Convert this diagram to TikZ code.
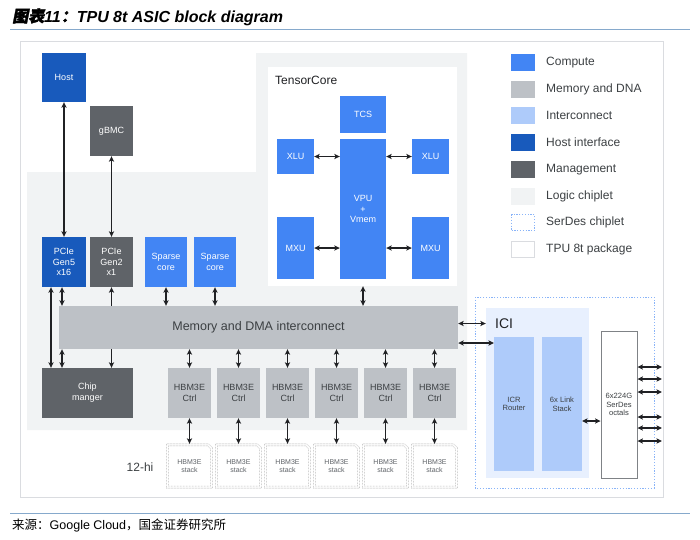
\documentclass[tikz,border=0pt]{standalone}
\usepackage{fontspec}
\setmainfont{Liberation Sans}
\newfontfamily\cjk{Noto Sans CJK SC}
\newfontfamily\cjkit[FakeSlant=0.2,FakeBold=2]{Noto Sans CJK SC}
\usetikzlibrary{arrows.meta}
\definecolor{cmp}{HTML}{4285F4}
\definecolor{mem}{HTML}{BDC1C6}
\definecolor{icn}{HTML}{AECBFA}
\definecolor{hst}{HTML}{185ABC}
\definecolor{mgt}{HTML}{5F6368}
\definecolor{logic}{HTML}{F1F3F4}
\definecolor{serd}{HTML}{8AB4F8}
\definecolor{pkg}{HTML}{DADCE0}
\definecolor{icibg}{HTML}{E8F0FE}
\definecolor{txtd}{HTML}{3C4043}
\definecolor{rule}{HTML}{86A9CC}
\definecolor{arrc}{HTML}{202124}
\newcommand\szbox{\fontsize{9}{10.8}\selectfont}
\newcommand\szsmall{\fontsize{7.6}{8.6}\selectfont}
\newcommand\szstk{\fontsize{7}{8.3}\selectfont}
\newcommand\szleg{\fontsize{12}{14}\selectfont}
\tikzset{
  blk/.style={rectangle, inner sep=0pt, align=center, text=white, font=\szbox},
  compute/.style={blk, fill=cmp},
  hostif/.style={blk, fill=hst},
  mgmt/.style={blk, fill=mgt},
  memb/.style={blk, fill=mem, text=txtd},
  icb/.style={blk, fill=icn, text=txtd, font=\szsmall},
  stackb/.style={rectangle, inner sep=0pt, align=center, text=mgt, font=\szstk, minimum width=46pt, minimum height=44pt},
  dots/.style={draw=black!40, line width=0.5pt, dash pattern=on 0.6pt off 0.9pt},
  arr/.style={<->, >={Stealth[length=5.5pt,width=5.2pt,inset=1.2pt]}, line width=1.1pt, draw=arrc},
  legsw/.style={rectangle, inner sep=0pt, minimum width=24pt, minimum height=17pt},
  legtx/.style={anchor=west, inner sep=0pt, text=txtd, font=\szleg},
}
\begin{document}
\begin{tikzpicture}[x=1pt,y=-1pt]
\useasboundingbox (0,0) rectangle (700,539);
\fill[white] (0,0) rectangle (700,539);
% title
\node[anchor=base west, inner sep=0pt, font=\fontsize{16}{18}\selectfont] (title) at (12,22)
  {{\cjkit\bfseries 图表}{\bfseries\itshape 11}{\cjkit\bfseries ：}{\bfseries\itshape TPU 8t ASIC block diagram}};
\draw[rule, line width=1pt] (10,29) -- (690,29);
% package
\draw[pkg, fill=white, line width=1pt] (20,41) rectangle (663,497);
% logic chiplet
\fill[logic] (27,172) -- (256,172) -- (256,53) -- (467,53) -- (467,430) -- (27,430) -- cycle;
% TensorCore
\node[rectangle, fill=white, inner sep=0pt, minimum width=189pt, minimum height=219pt] (tc) at (362.5,176.5) {};
\node[anchor=west, inner sep=0pt, font=\fontsize{12}{14}\selectfont, text=arrc] (tclab) at (275,80) {TensorCore};
\node[compute, minimum width=46pt, minimum height=37pt] (tcs) at (363,114.5) {TCS};
\node[compute, minimum width=46pt, minimum height=140pt] (vpu) at (363,209) {VPU\\+\\Vmem};
\node[compute, minimum width=37pt, minimum height=35pt] (xlul) at (295.5,156.5) {XLU};
\node[compute, minimum width=37pt, minimum height=35pt] (xlur) at (430.5,156.5) {XLU};
\node[compute, minimum width=37pt, minimum height=62pt] (mxul) at (295.5,248) {MXU};
\node[compute, minimum width=37pt, minimum height=62pt] (mxur) at (430.5,248) {MXU};
\draw[arr] (xlul.east) -- (vpu.west |- xlul.east);
\draw[arr] (xlur.west) -- (vpu.east |- xlur.west);
\draw[arr] (mxul.east) -- (vpu.west |- mxul.east);
\draw[arr] (mxur.west) -- (vpu.east |- mxur.west);
% host side
\node[hostif, minimum width=44pt, minimum height=49pt] (host) at (64,77.5) {Host};
\node[mgmt, minimum width=43pt, minimum height=50pt] (gbmc) at (111.5,131) {gBMC};
\node[hostif, minimum width=44pt, minimum height=50pt] (pcie5) at (64,262) {PCIe\\Gen5\\x16};
\node[mgmt, minimum width=43pt, minimum height=50pt] (pcie2) at (111.5,262) {PCIe\\Gen2\\x1};
\node[compute, minimum width=42pt, minimum height=50pt] (sp1) at (166,262) {Sparse\\core};
\node[compute, minimum width=42pt, minimum height=50pt] (sp2) at (215,262) {Sparse\\core};
\node[mgmt, minimum width=91pt, minimum height=50pt] (chip) at (87.5,393) {Chip\\manger};
\draw[arr] (host.south) -- (pcie5.north -| host.south);
\draw[arr] (gbmc.south) -- (pcie2.north -| gbmc.south);
\coordinate (c51) at (51,287);
\draw[arr] (pcie5.south -| c51) -- (chip.north -| c51);
\draw[arr] (pcie2.south) -- (chip.north -| pcie2.south);
% memory bar
\node[memb, minimum width=399pt, minimum height=43pt, font=\fontsize{12.5}{14}\selectfont] (bar) at (258.5,327.5) {Memory and DMA interconnect};
\coordinate (c62) at (62,300);
\draw[arr] (pcie5.south -| c62) -- (bar.north -| c62);
\draw[arr] (bar.south -| c62) -- (chip.north -| c62);
\draw[arr] (sp1.south) -- (bar.north -| sp1.south);
\draw[arr] (sp2.south) -- (bar.north -| sp2.south);
\draw[arr] (bar.north -| vpu.south) -- (tc.south -| vpu.south);
% HBM
\foreach \i/\x in {1/189.5,2/238.5,3/287.5,4/336.5,5/385.5,6/434.5}{
  \node[memb, minimum width=43pt, minimum height=50pt] (ctrl\i) at (\x,393) {HBM3E\\Ctrl};
  \node[stackb] (stk\i) at (\x,466) {HBM3E\\stack};
  \draw[dots] (stk\i.south west) -- (stk\i.north west) -- ([xshift=-4pt]stk\i.north east) -- ([yshift=-4pt]stk\i.north east) -- (stk\i.south east) -- cycle;
  \draw[dots] ([shift={(2pt,2pt)}]stk\i.south west) -- ([shift={(2pt,-2pt)}]stk\i.north west) -- ([shift={(-5pt,-2pt)}]stk\i.north east) -- ([shift={(-2pt,-5pt)}]stk\i.north east) -- ([shift={(-2pt,2pt)}]stk\i.south east) -- cycle;
  \draw[arr] (bar.south -| ctrl\i.north) -- (ctrl\i.north);
  \draw[arr] (ctrl\i.south) -- (stk\i.north);
}
\node[inner sep=0pt, text=txtd, font=\fontsize{12}{14}\selectfont] (hi) at (140,467) {12-hi};
% ICI / SerDes chiplet
\draw[serd, line width=1pt, dash pattern=on 1.2pt off 1.6pt] (475,297) rectangle (654,488);
\node[rectangle, fill=icibg, inner sep=0pt, minimum width=103pt, minimum height=170pt] (icibox) at (537.5,393) {};
\node[anchor=west, inner sep=0pt, text=arrc, font=\fontsize{14}{16}\selectfont] (icilab) at (495,323.5) {ICI};
\node[icb, minimum width=40pt, minimum height=134pt] (icr) at (514,404) {ICR\\Router};
\node[icb, minimum width=40pt, minimum height=134pt] (lnk) at (562,404) {6x Link\\Stack};
\node[rectangle, draw=mgt!80, line width=0.9pt, fill=white, inner sep=0pt, align=center, text=txtd, font=\szsmall, minimum width=36pt, minimum height=147pt] (sdo) at (619,404.5) {6x224G\\SerDes\\octals};
\coordinate (ry) at (494,343);
\draw[arr] (bar.east |- icilab.west) -- (icibox.west |- icilab.west);
\draw[arr] (bar.east |- ry) -- (ry);
\coordinate (ly) at (582,421);
\draw[arr] (ly) -- (sdo.west |- ly);
\foreach \j/\y in {1/367,2/379,3/392,4/417,5/428,6/441}{
  \coordinate (o\j) at (662,\y);
  \draw[arr] (sdo.east |- o\j) -- (o\j);
}
% legend
\node[legsw, fill=cmp] (l1) at (523,62.5) {};
\node[legtx] (t1) at (546,62.5) {Compute};
\node[legsw, fill=mem] (l2) at (523,89.2) {};
\node[legtx] (t2) at (546,89.2) {Memory and DNA};
\node[legsw, fill=icn] (l3) at (523,115.9) {};
\node[legtx] (t3) at (546,115.9) {Interconnect};
\node[legsw, fill=hst] (l4) at (523,142.6) {};
\node[legtx] (t4) at (546,142.6) {Host interface};
\node[legsw, fill=mgt] (l5) at (523,169.3) {};
\node[legtx] (t5) at (546,169.3) {Management};
\node[legsw, fill=logic] (l6) at (523,196) {};
\node[legtx] (t6) at (546,196) {Logic chiplet};
\node[legsw, draw=serd, line width=0.9pt, dash pattern=on 1.2pt off 1.6pt, minimum width=23pt, minimum height=16pt] (l7) at (523,222.7) {};
\node[legtx] (t7) at (546,222.7) {SerDes chiplet};
\node[legsw, draw=pkg, fill=white, line width=1pt, minimum width=23pt, minimum height=16pt] (l8) at (523,249.4) {};
\node[legtx] (t8) at (546,249.4) {TPU 8t package};
% footer
\draw[rule, line width=1pt] (10,513) -- (690,513);
\node[anchor=base west, inner sep=0pt, font=\fontsize{12.5}{14}\selectfont] (foot) at (12,529.5)
  {{\cjk 来源：}Google Cloud{\cjk ，国金证券研究所}};
\end{tikzpicture}
\end{document}
